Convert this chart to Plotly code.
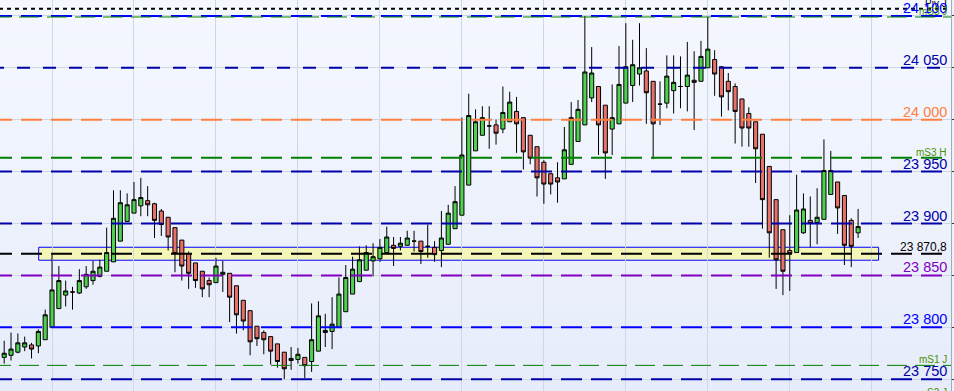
import plotly.graph_objects as go

# ---------------- data ----------------
candle_idx = list(range(126))
opens = [23771, 23773, 23776, 23781, 23783, 23782, 23788, 23800, 23818, 23831,
         23834, 23833, 23839, 23845, 23849, 23854, 23863, 23883, 23902, 23910,
         23917, 23922, 23919, 23912, 23906, 23896, 23884, 23871, 23862, 23854,
         23845, 23843, 23851, 23852, 23840, 23826, 23816, 23801, 23795, 23791,
         23784, 23776, 23768, 23769, 23771, 23767, 23777, 23795, 23796, 23800,
         23815, 23832, 23844, 23855, 23864, 23866, 23872, 23879, 23878, 23879,
         23883, 23883, 23878, 23877, 23874, 23880, 23895, 23908, 23937, 23970,
         23985, 23994, 23995, 23991, 23998, 24008, 24002, 23985, 23974, 23959,
         23948, 23944, 23943, 23957, 23979, 23995, 24021, 24032, 24014, 23991,
         23996, 24016, 24033, 24044, 24047, 24037, 24015, 24016, 24028, 24032,
         24032, 24038, 24037, 24050, 24058, 24051, 24037, 24032, 24020, 24006,
         23998, 23986, 23955, 23923, 23894, 23874, 23872, 23891, 23903, 23901,
         23904, 23928, 23940, 23927, 23903, 23891]
highs = [23787, 23795, 23794, 23791, 23785, 23798, 23817, 23870, 23859, 23845,
         23839, 23856, 23859, 23864, 23865, 23896, 23932, 23932, 23929, 23940,
         23944, 23936, 23920, 23914, 23906, 23896, 23884, 23873, 23862, 23854,
         23848, 23867, 23864, 23852, 23840, 23826, 23816, 23801, 23797, 23791,
         23784, 23776, 23781, 23780, 23771, 23823, 23825, 23813, 23829, 23848,
         23860, 23868, 23878, 23879, 23881, 23885, 23897, 23887, 23887, 23893,
         23893, 23883, 23899, 23883, 23912, 23918, 23936, 24002, 24025, 24010,
         24013, 24013, 24000, 24032, 24027, 24022, 24002, 23985, 23974, 23961,
         23948, 23959, 23993, 24017, 24019, 24100, 24070, 24032, 24014, 24034,
         24071, 24093, 24077, 24093, 24069, 24037, 24037, 24062, 24062, 24061,
         24075, 24066, 24076, 24099, 24067, 24051, 24045, 24035, 24020, 24012,
         23998, 23986, 23955, 23923, 23894, 23908, 23947, 23929, 23926, 23934,
         23981, 23970, 23940, 23927, 23905, 23914]
lows = [23765, 23768, 23775, 23777, 23770, 23775, 23788, 23800, 23818, 23820,
        23817, 23832, 23837, 23841, 23848, 23854, 23863, 23883, 23902, 23910,
        23907, 23907, 23886, 23888, 23874, 23853, 23845, 23837, 23838, 23829,
        23829, 23843, 23834, 23805, 23794, 23797, 23773, 23782, 23774, 23764,
        23761, 23750, 23759, 23765, 23751, 23757, 23777, 23781, 23779, 23800,
        23815, 23832, 23844, 23855, 23849, 23863, 23872, 23859, 23874, 23879,
        23873, 23861, 23867, 23863, 23858, 23880, 23895, 23908, 23937, 23970,
        23985, 23972, 23976, 23987, 23998, 23968, 23952, 23957, 23926, 23919,
        23928, 23920, 23943, 23957, 23979, 23995, 24017, 23966, 23943, 23966,
        23996, 24016, 24017, 24033, 23996, 23962, 23995, 24011, 24006, 24011,
        24008, 23990, 24037, 24050, 24023, 24003, 24009, 23977, 23974, 23974,
        23939, 23895, 23867, 23837, 23831, 23835, 23872, 23890, 23877, 23880,
        23904, 23928, 23890, 23860, 23858, 23886]
closes = [23775, 23779, 23785, 23785, 23779, 23796, 23812, 23836, 23845, 23835,
          23834, 23845, 23851, 23854, 23858, 23872, 23905, 23920, 23918, 23923,
          23925, 23918, 23903, 23899, 23887, 23871, 23859, 23852, 23845, 23837,
          23841, 23859, 23853, 23829, 23812, 23806, 23786, 23789, 23788, 23777,
          23767, 23760, 23770, 23774, 23763, 23788, 23811, 23797, 23803, 23832,
          23848, 23856, 23865, 23872, 23868, 23877, 23887, 23876, 23881, 23886,
          23883, 23873, 23878, 23870, 23886, 23910, 23921, 23966, 24004, 23998,
          24002, 23994, 23987, 24007, 24017, 23996, 23969, 23963, 23944, 23938,
          23938, 23940, 23971, 24002, 24010, 24046, 24045, 23995, 23968, 24002,
          24034, 24051, 24053, 24050, 24026, 23996, 24015, 24042, 24036, 24032,
          24043, 24036, 24061, 24068, 24044, 24022, 24027, 24008, 23992, 23992,
          23972, 23923, 23891, 23865, 23854, 23871, 23913, 23914, 23900, 23906,
          23951, 23951, 23915, 23879, 23878, 23897]

level_values = [24107, 24100, 24099, 24050, 24000, 23963.4, 23950, 23900,
                23870.8, 23850, 23800, 23763.3, 23750]
level_labels = ["Piv J", "24 100", "mS3 J", "24 050", "24 000", "mS3 H", "23 950",
                "23 900", "23 870,8", "23 850", "23 800", "mS1 J", "23 750"]
offchart_value = 23731.8
offchart_label = "S2 J"

zone_low, zone_high = 23864.6, 23877.1
zone_start, zone_end = 5.05, 128.0

y_range = [23738.6, 24115.35]
x_range = [-0.615, 138.6]

# ---------------- styles ----------------
DARK_BLUE = "#0000a8"
BLUE = "#0000ff"
ORANGE = "#ff7f3f"
GREEN = "#008000"
PURPLE = "#8000c0"
BLACK = "#000000"
LABEL_GREEN = "#4a9000"

level_styles = [
    dict(color=BLACK, width=2, dash="4px,4px", lab=BLACK, size=10),
    dict(color=BLUE, width=2, dash="21px,9px", lab=BLUE, size=14.5),
    dict(color=GREEN, width=1, dash="20px,8px", lab=LABEL_GREEN, size=10),
    dict(color=DARK_BLUE, width=2, dash="13px,13px", lab=DARK_BLUE, size=14.5),
    dict(color=ORANGE, width=2, dash="21px,9px", lab=ORANGE, size=14.5),
    dict(color=GREEN, width=2, dash="21px,9px", lab=LABEL_GREEN, size=10),
    dict(color=DARK_BLUE, width=2, dash="21px,9px", lab=DARK_BLUE, size=14.5),
    dict(color=DARK_BLUE, width=2, dash="21px,9px", lab=DARK_BLUE, size=14.5),
    dict(color=BLACK, width=2, dash="21px,9px", lab=BLACK, size=12),
    dict(color=PURPLE, width=2, dash="21px,9px", lab=PURPLE, size=14.5),
    dict(color=BLUE, width=2, dash="21px,9px", lab=BLUE, size=14.5),
    dict(color=GREEN, width=1, dash="20px,8px", lab=LABEL_GREEN, size=10),
    dict(color=DARK_BLUE, width=2, dash="21px,9px", lab=DARK_BLUE, size=14.5),
]

W, H = 954, 391
ML, MR = 0, 3
plot_w = W - ML - MR

fig = go.Figure()
fig.add_trace(go.Candlestick(
    x=candle_idx, open=opens, high=highs, low=lows, close=closes,
    increasing=dict(fillcolor="#4fd04f", line=dict(color="#000000", width=1)),
    decreasing=dict(fillcolor="#e8706a", line=dict(color="#000000", width=1)),
    whiskerwidth=0, hoverinfo="skip", showlegend=False,
))

shapes = []
# background gradient bands
top_c = (0xf5, 0xf8, 0xff)
bot_c = (0xe6, 0xec, 0xfa)
nb = 40
for k in range(nb):
    t = (k + 0.5) / nb
    c = tuple(round(top_c[j] + (bot_c[j] - top_c[j]) * t) for j in range(3))
    shapes.append(dict(type="rect", xref="paper", yref="paper",
                       x0=0, x1=1, y0=1 - (k + 1) / nb, y1=1 - k / nb + 0.001,
                       fillcolor="rgb(%d,%d,%d)" % c, line=dict(width=0),
                       layer="below"))
# zone
shapes.append(dict(type="rect", xref="x", yref="y", x0=zone_start, x1=zone_end,
                   y0=zone_low, y1=zone_high, fillcolor="#f4f6b8",
                   line=dict(color="#0000ff", width=1), layer="below"))
# level lines
off = -9.0 / plot_w
for v, st in zip(level_values, level_styles):
    shapes.append(dict(type="line", xref="paper", yref="y", x0=off, x1=1,
                       y0=v, y1=v, layer="above",
                       line=dict(color=st["color"], width=st["width"], dash=st["dash"])))

annotations = []
for v, lab, st in zip(level_values, level_labels, level_styles):
    annotations.append(dict(x=1, xref="paper", xanchor="right", xshift=-2,
                            y=v, yref="y", yanchor="bottom", yshift=-2,
                            text=lab, showarrow=False,
                            font=dict(family="Liberation Sans, Arial", size=st["size"],
                                      color=st["lab"])))
annotations.append(dict(x=1, xref="paper", xanchor="right", xshift=-2,
                        y=(offchart_value - y_range[0]) / (y_range[1] - y_range[0]),
                        yref="paper", yanchor="bottom", yshift=-2,
                        text=offchart_label, showarrow=False,
                        font=dict(family="Liberation Sans, Arial", size=10,
                                  color=LABEL_GREEN)))

fig.update_layout(
    width=W, height=H,
    margin=dict(l=ML, r=MR, t=0, b=0, pad=0),
    paper_bgcolor="#eef2fc",
    plot_bgcolor="rgba(0,0,0,0)",
    shapes=shapes, annotations=annotations,
    showlegend=False,
    boxgap=0.4, boxgroupgap=0,
    xaxis=dict(range=x_range, rangeslider=dict(visible=False),
               showgrid=True, gridcolor="#d0d6e4", gridwidth=1,
               tick0=7, dtick=12, showticklabels=False, ticks="",
               zeroline=False, showline=False, fixedrange=True),
    yaxis=dict(range=y_range, side="right", showgrid=True, gridcolor="#d0d6e4",
               gridwidth=1, tick0=23750, dtick=50, showticklabels=False,
               ticks="outside", ticklen=3, tickcolor="#333333", tickwidth=1,
               showline=True, linecolor="#a4abb8", linewidth=1,
               zeroline=False, fixedrange=True),
)

fig.write_html("out.html")
